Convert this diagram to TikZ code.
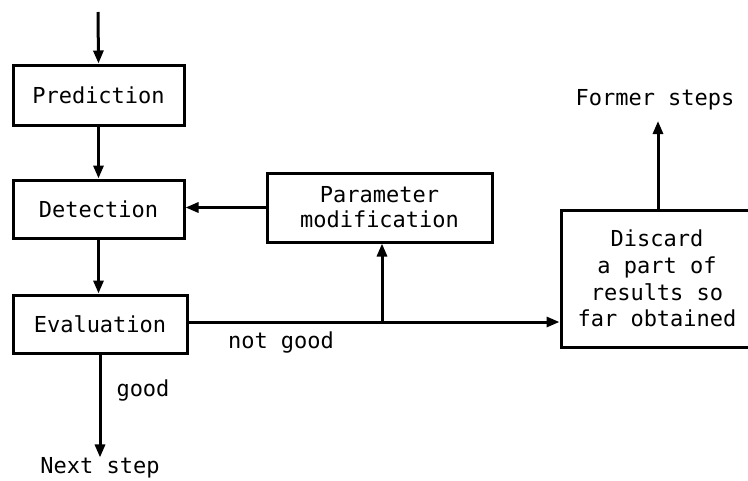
\documentclass[tikz,border=0pt]{standalone}
\usepackage{fontspec}
\setmainfont{DejaVu Sans Mono}
\usetikzlibrary{arrows.meta}
\begin{document}
\begin{tikzpicture}[x=1pt,y=-1pt,
  box/.style={draw,line width=3pt,minimum height=#1,inner sep=0pt,align=center},
  lbl/.style={inner sep=0pt},
  conn/.style={line width=3pt,-{Triangle[length=13pt,width=10pt]}},
  every node/.append style={font=\fontsize{22}{25}\selectfont}]
\useasboundingbox (0,0) rectangle (748,480);
\clip (0,0) rectangle (748,480);
\node[box=60pt,minimum width=171pt] (pred) at (98.5,95) {Prediction};
\node[box=58pt,minimum width=171pt] (det) at (98.5,209) {Detection};
\node[box=58pt,minimum width=174pt] (eval) at (100,324) {Evaluation};
\node[box=69pt,minimum width=225pt,font=\fontsize{22}{25}\selectfont] (param) at (379.5,207.5) {Parameter\\modification};
\node[box=137pt,minimum width=192pt,font=\fontsize{22}{26.7}\selectfont] (disc) at (657,278.5) {Discard\\a part of\\results so\\far obtained};
\coordinate (top) at (98,12);
\node[lbl] (next) at (100,468) {Next step};
\node[lbl] (former) at (655,100) {Former steps};
\node[lbl] (good) at (143,390) {good};
\node[lbl] (ng) at (281,343) {not good};
\coordinate (junc) at (382,322);
\coordinate (dl) at (disc.west |- junc);
\draw[conn] (top) -- (pred.north);
\draw[conn] (pred.south) -- (pred.south |- det.north);
\draw[conn] (det.south) -- (det.south |- eval.north);
\draw[conn] (param.west) -- (det.east |- param.west);
\draw[conn] (eval.south) -- (next.north);
\draw[line width=3pt] (eval.east |- junc) -- (junc);
\draw[conn] (junc) -- (dl);
\draw[conn] (junc) -- (junc |- param.south);
\draw[conn] (658,210) -- (658,121);
\end{tikzpicture}
\end{document}
